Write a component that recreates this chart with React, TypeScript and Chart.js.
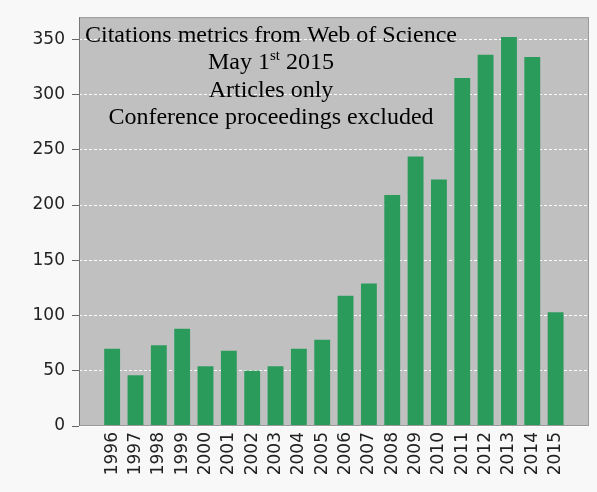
import React, { useEffect, useRef } from "react";
import { Chart, registerables } from "chart.js";

Chart.register(...registerables);

const years: number[] = [1996, 1997, 1998, 1999, 2000, 2001, 2002, 2003, 2004, 2005, 2006, 2007, 2008, 2009, 2010, 2011, 2012, 2013, 2014, 2015];
const citations: number[] = [70, 46, 73, 88, 54, 68, 50, 54, 70, 78, 118, 129, 209, 244, 223, 315, 336, 352, 334, 103];
const yTicks: number[] = [0, 50, 100, 150, 200, 250, 300, 350];
const titleLines: string[] = ["Citations metrics from Web of Science", "May 1|st| 2015", "Articles only", "Conference proceedings excluded"];

const plotBg = {
  id: "plotBg",
  beforeDraw(chart: any) {
    const { ctx, chartArea: a } = chart;
    ctx.save();
    ctx.fillStyle = "#c0c0c0";
    ctx.fillRect(a.left, a.top, a.right - a.left, a.bottom - a.top);
    ctx.restore();
  },
  afterDatasetsDraw(chart: any) {
    const { ctx, chartArea: a } = chart;
    ctx.save();
    ctx.strokeStyle = "#9a9a9a";
    ctx.lineWidth = 1;
    ctx.strokeRect(a.left + 0.5, a.top + 0.5, a.right - a.left - 1, a.bottom - a.top - 1);
    ctx.strokeStyle = "#777";
    ctx.beginPath();
    ctx.moveTo(a.left + 0.5, a.top);
    ctx.lineTo(a.left + 0.5, a.bottom);
    ctx.stroke();

    // overlay text
    const cx = 271;
    const base = 42;
    const lh = 27.3;
    ctx.fillStyle = "#000";
    ctx.textBaseline = "alphabetic";
    const big = "24px 'Liberation Serif', 'Times New Roman', serif";
    const small = "15px 'Liberation Serif', 'Times New Roman', serif";
    titleLines.forEach((line, i) => {
      const y = base + lh * i;
      const parts = line.split("|");
      const widths = parts.map((p, k) => {
        ctx.font = k % 2 === 1 ? small : big;
        return ctx.measureText(p).width;
      });
      const total = widths.reduce((s, w) => s + w, 0);
      let x = cx - total / 2;
      ctx.textAlign = "left";
      parts.forEach((p, k) => {
        const sup = k % 2 === 1;
        ctx.font = sup ? small : big;
        ctx.fillText(p, x, sup ? y - 9 : y);
        x += widths[k];
      });
    });
    ctx.restore();
  },
};

export default function App() {
  const ref = useRef<HTMLCanvasElement | null>(null);
  useEffect(() => {
    if (!ref.current) return;
    const chart = new Chart(ref.current, {
      type: "bar",
      data: {
        datasets: [
          {
            data: years.map((y, i) => ({ x: y, y: citations[i] })),
            backgroundColor: "#2b9b5c",
            borderWidth: 0,
            barPercentage: 0.68,
            categoryPercentage: 1,
          },
        ],
      },
      plugins: [plotBg],
      options: {
        animation: false,
        responsive: true,
        maintainAspectRatio: false,
        layout: { padding: { top: 15, right: 8, left: 0, bottom: 0 } },
        plugins: { legend: { display: false }, tooltip: { enabled: false }, title: { display: false } },
        scales: {
          x: {
            type: "linear",
            offset: false,
            bounds: "data",
            min: 1994.58,
            max: 2016.43,
            afterBuildTicks: (axis: any) => {
              axis.ticks = years.map((v) => ({ value: v }));
            },
            afterFit: (s: any) => {
              s.height = 66;
            },
            grid: { display: false, drawTicks: false, offset: false },
            border: { display: false },
            ticks: {
              autoSkip: false,
              minRotation: 90,
              maxRotation: 90,
              padding: 6,
              color: "#222",
              font: { family: "'DejaVu Sans', sans-serif", size: 17 },
              callback: (v: any) => String(v),
            },
          },
          y: {
            type: "linear",
            min: 0,
            max: 370,
            afterBuildTicks: (axis: any) => {
              axis.ticks = yTicks.map((v) => ({ value: v }));
            },
            afterFit: (s: any) => {
              s.width = 79;
            },
            grid: {
              color: "#ffffff",
              lineWidth: 1,
              drawTicks: true,
              tickLength: 7,
              tickColor: "#666",
              tickBorderDash: [],
            },
            border: { display: false, dash: [3, 2] },
            ticks: {
              padding: 7,
              color: "#222",
              font: { family: "'DejaVu Sans', sans-serif", size: 17 },
              callback: (v: any) => String(v),
            },
          },
        },
      },
    });
    return () => chart.destroy();
  }, []);
  return (
    <div style={{ position: "absolute", left: 0, top: 0, width: 597, height: 492, background: "#f8f8f8" }}>
      <canvas ref={ref} />
    </div>
  );
}
